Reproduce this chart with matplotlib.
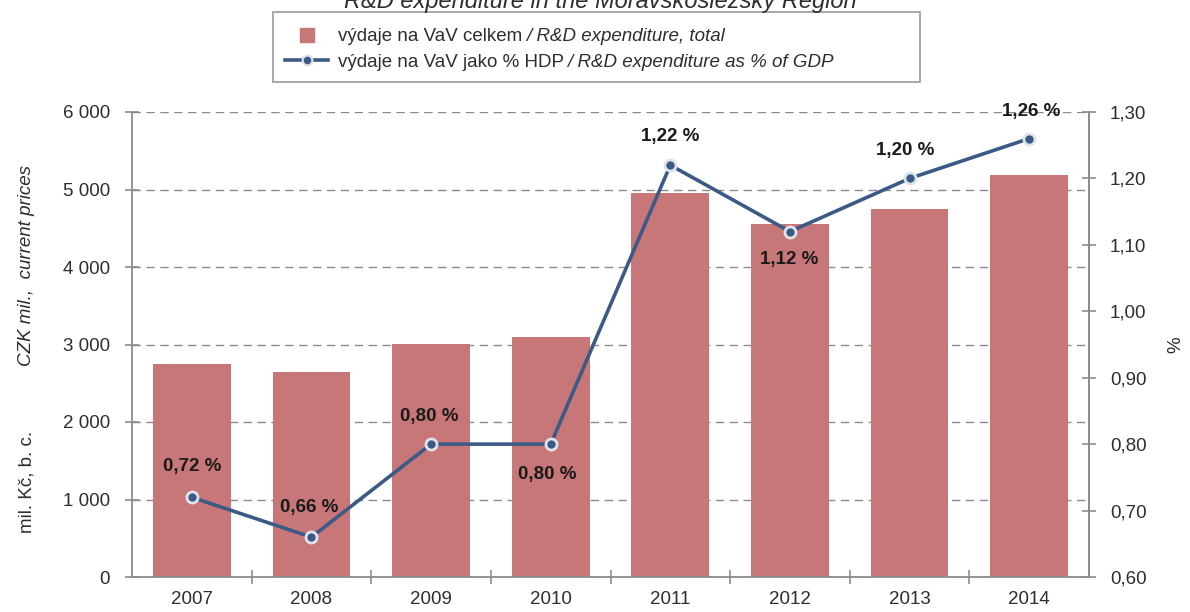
import numpy as np
import matplotlib
matplotlib.use("Agg")
import matplotlib.pyplot as plt
from matplotlib.lines import Line2D
from matplotlib.patches import Rectangle

plt.rcParams["font.family"] = ["Liberation Sans", "DejaVu Sans"]

years = ["2007", "2008", "2009", "2010", "2011", "2012", "2013", "2014"]
expenditure = [2745, 2640, 3010, 3100, 4950, 4560, 4750, 5185]
pct_gdp = [0.72, 0.66, 0.80, 0.80, 1.22, 1.12, 1.20, 1.26]
pct_labels = ["0,72 %", "0,66 %", "0,80 %", "0,80 %", "1,22 %", "1,12 %", "1,20 %", "1,26 %"]
left_ticks = [0, 1000, 2000, 3000, 4000, 5000, 6000]
left_tick_labels = ["0", "1 000", "2 000", "3 000", "4 000", "5 000", "6 000"]
right_ticks = [0.60, 0.70, 0.80, 0.90, 1.00, 1.10, 1.20, 1.30]
right_tick_labels = ["0,60", "0,70", "0,80", "0,90", "1,00", "1,10", "1,20", "1,30"]
legend_cz = ["výdaje na VaV celkem", "výdaje na VaV jako % HDP"]
legend_en = ["/ R&D expenditure, total", "/ R&D expenditure as % of GDP"]

BAR_C = "#c77777"
LINE_C = "#3c5a86"
AXIS_C = "#8c8c8c"
TXT_C = "#2e2e2e"
FS = 13.5

W, H = 1190, 612
fig = plt.figure(figsize=(W / 100, H / 100), dpi=100)
ax = fig.add_axes([132 / W, 1 - 577 / H, (1089 - 132) / W, (577 - 112) / H])
x = np.arange(len(years))

ax.bar(x, expenditure, width=0.65, color=BAR_C, zorder=2)
ax.set_xlim(-0.5, 7.5)
ax.set_ylim(0, 6000)
ax.set_yticks(left_ticks)
ax.set_yticklabels(left_tick_labels)
ax.set_xticks(x)
ax.set_xticklabels(years)
ax.set_xticks(np.arange(0.5, 7.5, 1.0), minor=True)
ax.tick_params(axis="x", which="major", length=0, pad=10, labelsize=FS, labelcolor=TXT_C)
ax.tick_params(axis="x", which="minor", direction="inout", length=10, color=AXIS_C, width=1.2)
ax.tick_params(axis="y", direction="inout", length=10, color=AXIS_C, width=1.2,
               labelsize=FS, labelcolor=TXT_C, pad=11)
ax.grid(axis="y", linestyle=(0, (6, 4)), color="#8a8a8a", linewidth=1.0, zorder=0)
ax.spines["top"].set_visible(False)
for s in ["left", "bottom", "right"]:
    ax.spines[s].set_color(AXIS_C)
    ax.spines[s].set_linewidth(1.3)

ax2 = ax.twinx()
ax2.set_ylim(0.60, 1.30)
ax2.set_yticks(right_ticks)
ax2.set_yticklabels(right_tick_labels)
ax2.tick_params(axis="y", direction="inout", length=10, color=AXIS_C, width=1.2,
                labelsize=FS, labelcolor=TXT_C, pad=10)
for s in ["top", "left", "bottom"]:
    ax2.spines[s].set_visible(False)
ax2.spines["right"].set_color(AXIS_C)
ax2.spines["right"].set_linewidth(1.3)

ax2.plot(x, pct_gdp, color=LINE_C, linewidth=2.6, marker="o", markersize=8,
         markerfacecolor=LINE_C, markeredgecolor="#dfe4ec", markeredgewidth=2, zorder=3)

offsets = [(0, 31), (-2, 30), (-2, 28), (-3, -30), (0, 29), (-1, -28), (-4, 28), (2, 27)]
for xi, yi, lab, off in zip(x, pct_gdp, pct_labels, offsets):
    ax2.annotate(lab, (xi, yi), xytext=off, textcoords="offset pixels",
                 ha="center", va="center", fontsize=FS, fontweight="bold", color="#1a1a1a")

fig.text(27 / W, 1 - 482 / H, "mil. Kč, b. c.", rotation=90, ha="center", va="center",
         fontsize=FS, color=TXT_C)
fig.text(27 / W, 1 - 266 / H, "CZK mil.,  current prices", rotation=90, ha="center",
         va="center", fontsize=FS, color=TXT_C, style="italic")
fig.text(1176 / W, 1 - 345 / H, "%", rotation=90, ha="center", va="center",
         fontsize=FS, color=TXT_C)

# title is cropped at the top edge in the source image
fig.text(600 / W, 1 - 8 / H, "R&D expenditure in the Moravskoslezský Region", ha="center",
         va="baseline", fontsize=17, color=TXT_C, style="italic")

# legend: czech part via fig.legend, italic english part appended, frame drawn around both
handles = [
    Line2D([0], [0], linestyle="none", marker="s", markersize=10, color=BAR_C),
    Line2D([0], [0], color=LINE_C, linewidth=2.6, marker="o", markersize=7,
           markerfacecolor=LINE_C, markeredgecolor="#dfe4ec", markeredgewidth=1.5),
]
leg = fig.legend(handles, legend_cz, loc="upper left", bbox_to_anchor=(285 / W, 1 - 28 / H),
                 frameon=False, fontsize=FS, handlelength=2.3, borderpad=0,
                 borderaxespad=0, labelspacing=0.45, handletextpad=0.5)
for t in leg.get_texts():
    t.set_color(TXT_C)

fig.canvas.draw()
inv = fig.transFigure.inverted()
for t, en in zip(leg.get_texts(), legend_en):
    bb = t.get_window_extent()
    x0, y0 = inv.transform((bb.x1 + 4, (bb.y0 + bb.y1) / 2))
    fig.text(x0, y0, en, ha="left", va="center", fontsize=FS, style="italic", color=TXT_C)

fig.patches.append(Rectangle((273 / W, 1 - 82 / H), (920 - 273) / W, (82 - 12) / H,
                             transform=fig.transFigure, fill=False,
                             edgecolor="#9a9a9a", linewidth=1.2))

fig.savefig("out.png", dpi=100)
